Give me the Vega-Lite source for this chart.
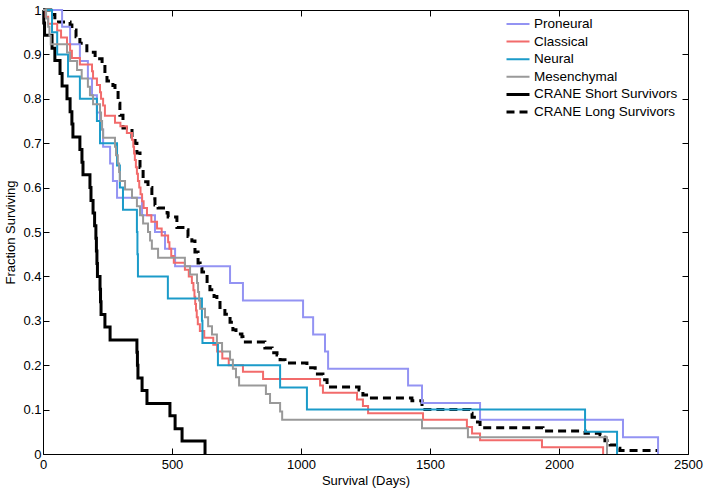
{
  "$schema": "https://vega.github.io/schema/vega-lite/v6.json",
  "width": 645,
  "height": 444,
  "autosize": {"type": "none"},
  "padding": {"left": 43, "top": 10, "right": 20, "bottom": 38},
  "background": "white",
  "config": {
    "view": {"stroke": null},
    "font": "Liberation Sans",
    "axis": {
      "domainColor": "#000000", "domainWidth": 1,
      "tickColor": "#000000", "tickSize": -6, "tickWidth": 1,
      "labelColor": "#000000", "labelFont": "Liberation Sans", "labelFontSize": 13,
      "titleColor": "#000000", "titleFont": "Liberation Sans", "titleFontSize": 13, "titleFontWeight": "normal",
      "grid": false
    },
    "legend": {
      "labelFont": "Liberation Sans", "labelFontSize": 13.5, "labelColor": "#000000",
      "symbolType": "stroke", "symbolSize": 529, "labelOffset": 3,
      "clipHeight": 14, "rowPadding": 3.6, "orient": "none", "legendX": 462, "legendY": 7
    }
  },
  "data": {"values": [
    {"g":"CRANE Short Survivors","t":0,"s":1},{"g":"CRANE Short Survivors","t":3,"s":0.971},{"g":"CRANE Short Survivors","t":6,"s":0.943},{"g":"CRANE Short Survivors","t":35,"s":0.914},{"g":"CRANE Short Survivors","t":46,"s":0.886},{"g":"CRANE Short Survivors","t":66,"s":0.857},{"g":"CRANE Short Survivors","t":74,"s":0.829},{"g":"CRANE Short Survivors","t":93,"s":0.8},{"g":"CRANE Short Survivors","t":105,"s":0.771},{"g":"CRANE Short Survivors","t":112,"s":0.743},{"g":"CRANE Short Survivors","t":116,"s":0.714},{"g":"CRANE Short Survivors","t":143,"s":0.686},{"g":"CRANE Short Survivors","t":151,"s":0.657},{"g":"CRANE Short Survivors","t":155,"s":0.629},{"g":"CRANE Short Survivors","t":182,"s":0.6},{"g":"CRANE Short Survivors","t":186,"s":0.571},{"g":"CRANE Short Survivors","t":194,"s":0.543},{"g":"CRANE Short Survivors","t":200,"s":0.514},{"g":"CRANE Short Survivors","t":205,"s":0.486},{"g":"CRANE Short Survivors","t":207,"s":0.457},{"g":"CRANE Short Survivors","t":209,"s":0.429},{"g":"CRANE Short Survivors","t":211,"s":0.4},{"g":"CRANE Short Survivors","t":221,"s":0.371},{"g":"CRANE Short Survivors","t":223,"s":0.343},{"g":"CRANE Short Survivors","t":225,"s":0.314},{"g":"CRANE Short Survivors","t":240,"s":0.286},{"g":"CRANE Short Survivors","t":260,"s":0.257},{"g":"CRANE Short Survivors","t":364,"s":0.229},{"g":"CRANE Short Survivors","t":366,"s":0.2},{"g":"CRANE Short Survivors","t":368,"s":0.171},{"g":"CRANE Short Survivors","t":384,"s":0.143},{"g":"CRANE Short Survivors","t":403,"s":0.114},{"g":"CRANE Short Survivors","t":492,"s":0.086},{"g":"CRANE Short Survivors","t":512,"s":0.057},{"g":"CRANE Short Survivors","t":539,"s":0.029},{"g":"CRANE Short Survivors","t":628,"s":0},

    {"g":"CRANE Long Survivors","t":0,"s":1},{"g":"CRANE Long Survivors","t":30,"s":0.99},{"g":"CRANE Long Survivors","t":46,"s":0.973},{"g":"CRANE Long Survivors","t":105,"s":0.966},{"g":"CRANE Long Survivors","t":112,"s":0.955},{"g":"CRANE Long Survivors","t":128,"s":0.94},{"g":"CRANE Long Survivors","t":143,"s":0.925},{"g":"CRANE Long Survivors","t":170,"s":0.905},{"g":"CRANE Long Survivors","t":202,"s":0.89},{"g":"CRANE Long Survivors","t":229,"s":0.876},{"g":"CRANE Long Survivors","t":240,"s":0.855},{"g":"CRANE Long Survivors","t":248,"s":0.84},{"g":"CRANE Long Survivors","t":271,"s":0.83},{"g":"CRANE Long Survivors","t":279,"s":0.82},{"g":"CRANE Long Survivors","t":291,"s":0.79},{"g":"CRANE Long Survivors","t":298,"s":0.763},{"g":"CRANE Long Survivors","t":310,"s":0.734},{"g":"CRANE Long Survivors","t":345,"s":0.714},{"g":"CRANE Long Survivors","t":357,"s":0.7},{"g":"CRANE Long Survivors","t":364,"s":0.678},{"g":"CRANE Long Survivors","t":376,"s":0.645},{"g":"CRANE Long Survivors","t":388,"s":0.613},{"g":"CRANE Long Survivors","t":407,"s":0.6},{"g":"CRANE Long Survivors","t":422,"s":0.575},{"g":"CRANE Long Survivors","t":434,"s":0.561},{"g":"CRANE Long Survivors","t":446,"s":0.554},{"g":"CRANE Long Survivors","t":481,"s":0.543},{"g":"CRANE Long Survivors","t":485,"s":0.534},{"g":"CRANE Long Survivors","t":519,"s":0.51},{"g":"CRANE Long Survivors","t":550,"s":0.505},{"g":"CRANE Long Survivors","t":562,"s":0.49},{"g":"CRANE Long Survivors","t":577,"s":0.48},{"g":"CRANE Long Survivors","t":589,"s":0.455},{"g":"CRANE Long Survivors","t":601,"s":0.43},{"g":"CRANE Long Survivors","t":609,"s":0.42},{"g":"CRANE Long Survivors","t":616,"s":0.41},{"g":"CRANE Long Survivors","t":636,"s":0.385},{"g":"CRANE Long Survivors","t":647,"s":0.37},{"g":"CRANE Long Survivors","t":663,"s":0.355},{"g":"CRANE Long Survivors","t":674,"s":0.347},{"g":"CRANE Long Survivors","t":686,"s":0.33},{"g":"CRANE Long Survivors","t":705,"s":0.315},{"g":"CRANE Long Survivors","t":725,"s":0.297},{"g":"CRANE Long Survivors","t":736,"s":0.28},{"g":"CRANE Long Survivors","t":748,"s":0.27},{"g":"CRANE Long Survivors","t":771,"s":0.264},{"g":"CRANE Long Survivors","t":775,"s":0.252},{"g":"CRANE Long Survivors","t":860,"s":0.239},{"g":"CRANE Long Survivors","t":888,"s":0.228},{"g":"CRANE Long Survivors","t":907,"s":0.223},{"g":"CRANE Long Survivors","t":919,"s":0.212},{"g":"CRANE Long Survivors","t":938,"s":0.205},{"g":"CRANE Long Survivors","t":1023,"s":0.194},{"g":"CRANE Long Survivors","t":1055,"s":0.18},{"g":"CRANE Long Survivors","t":1085,"s":0.167},{"g":"CRANE Long Survivors","t":1101,"s":0.151},{"g":"CRANE Long Survivors","t":1225,"s":0.144},{"g":"CRANE Long Survivors","t":1240,"s":0.133},{"g":"CRANE Long Survivors","t":1260,"s":0.126},{"g":"CRANE Long Survivors","t":1430,"s":0.12},{"g":"CRANE Long Survivors","t":1469,"s":0.1},{"g":"CRANE Long Survivors","t":1655,"s":0.092},{"g":"CRANE Long Survivors","t":1663,"s":0.083},{"g":"CRANE Long Survivors","t":1678,"s":0.072},{"g":"CRANE Long Survivors","t":1694,"s":0.061},{"g":"CRANE Long Survivors","t":1705,"s":0.059},{"g":"CRANE Long Survivors","t":1938,"s":0.052},{"g":"CRANE Long Survivors","t":2101,"s":0.047},{"g":"CRANE Long Survivors","t":2159,"s":0.043},{"g":"CRANE Long Survivors","t":2167,"s":0.038},{"g":"CRANE Long Survivors","t":2178,"s":0.03},{"g":"CRANE Long Survivors","t":2186,"s":0.025},{"g":"CRANE Long Survivors","t":2198,"s":0.02},{"g":"CRANE Long Survivors","t":2225,"s":0.013},{"g":"CRANE Long Survivors","t":2236,"s":0.008},{"g":"CRANE Long Survivors","t":2384,"s":0.008},

    {"g":"Proneural","t":0,"s":1},{"g":"Proneural","t":74,"s":0.962},{"g":"Proneural","t":105,"s":0.923},{"g":"Proneural","t":143,"s":0.885},{"g":"Proneural","t":174,"s":0.846},{"g":"Proneural","t":190,"s":0.808},{"g":"Proneural","t":209,"s":0.769},{"g":"Proneural","t":221,"s":0.731},{"g":"Proneural","t":233,"s":0.692},{"g":"Proneural","t":260,"s":0.654},{"g":"Proneural","t":271,"s":0.615},{"g":"Proneural","t":287,"s":0.577},{"g":"Proneural","t":384,"s":0.538},{"g":"Proneural","t":434,"s":0.5},{"g":"Proneural","t":473,"s":0.462},{"g":"Proneural","t":512,"s":0.423},{"g":"Proneural","t":725,"s":0.385},{"g":"Proneural","t":775,"s":0.346},{"g":"Proneural","t":1008,"s":0.308},{"g":"Proneural","t":1047,"s":0.269},{"g":"Proneural","t":1093,"s":0.231},{"g":"Proneural","t":1105,"s":0.192},{"g":"Proneural","t":1415,"s":0.154},{"g":"Proneural","t":1469,"s":0.115},{"g":"Proneural","t":1694,"s":0.077},{"g":"Proneural","t":2248,"s":0.038},{"g":"Proneural","t":2384,"s":0},

    {"g":"Classical","t":0,"s":1},{"g":"Classical","t":10,"s":0.985},{"g":"Classical","t":20,"s":0.969},{"g":"Classical","t":55,"s":0.954},{"g":"Classical","t":70,"s":0.938},{"g":"Classical","t":93,"s":0.923},{"g":"Classical","t":105,"s":0.908},{"g":"Classical","t":112,"s":0.892},{"g":"Classical","t":143,"s":0.877},{"g":"Classical","t":190,"s":0.862},{"g":"Classical","t":194,"s":0.846},{"g":"Classical","t":209,"s":0.831},{"g":"Classical","t":221,"s":0.815},{"g":"Classical","t":225,"s":0.8},{"g":"Classical","t":233,"s":0.785},{"g":"Classical","t":240,"s":0.762},{"g":"Classical","t":279,"s":0.746},{"g":"Classical","t":300,"s":0.738},{"g":"Classical","t":325,"s":0.723},{"g":"Classical","t":345,"s":0.708},{"g":"Classical","t":350,"s":0.692},{"g":"Classical","t":353,"s":0.677},{"g":"Classical","t":356,"s":0.662},{"g":"Classical","t":360,"s":0.646},{"g":"Classical","t":364,"s":0.631},{"g":"Classical","t":368,"s":0.615},{"g":"Classical","t":373,"s":0.6},{"g":"Classical","t":378,"s":0.585},{"g":"Classical","t":384,"s":0.569},{"g":"Classical","t":390,"s":0.554},{"g":"Classical","t":403,"s":0.538},{"g":"Classical","t":420,"s":0.523},{"g":"Classical","t":442,"s":0.508},{"g":"Classical","t":460,"s":0.492},{"g":"Classical","t":485,"s":0.477},{"g":"Classical","t":490,"s":0.462},{"g":"Classical","t":497,"s":0.446},{"g":"Classical","t":507,"s":0.431},{"g":"Classical","t":550,"s":0.415},{"g":"Classical","t":565,"s":0.4},{"g":"Classical","t":577,"s":0.385},{"g":"Classical","t":583,"s":0.369},{"g":"Classical","t":587,"s":0.354},{"g":"Classical","t":590,"s":0.338},{"g":"Classical","t":593,"s":0.323},{"g":"Classical","t":596,"s":0.308},{"g":"Classical","t":600,"s":0.292},{"g":"Classical","t":608,"s":0.277},{"g":"Classical","t":625,"s":0.262},{"g":"Classical","t":660,"s":0.246},{"g":"Classical","t":675,"s":0.231},{"g":"Classical","t":695,"s":0.215},{"g":"Classical","t":720,"s":0.2},{"g":"Classical","t":775,"s":0.185},{"g":"Classical","t":853,"s":0.169},{"g":"Classical","t":1074,"s":0.154},{"g":"Classical","t":1085,"s":0.138},{"g":"Classical","t":1217,"s":0.123},{"g":"Classical","t":1240,"s":0.108},{"g":"Classical","t":1260,"s":0.092},{"g":"Classical","t":1473,"s":0.077},{"g":"Classical","t":1643,"s":0.061},{"g":"Classical","t":1663,"s":0.046},{"g":"Classical","t":1694,"s":0.031},{"g":"Classical","t":1934,"s":0.015},{"g":"Classical","t":2171,"s":0},

    {"g":"Neural","t":0,"s":1},{"g":"Neural","t":35,"s":0.95},{"g":"Neural","t":55,"s":0.9},{"g":"Neural","t":97,"s":0.85},{"g":"Neural","t":143,"s":0.8},{"g":"Neural","t":209,"s":0.75},{"g":"Neural","t":221,"s":0.7},{"g":"Neural","t":287,"s":0.65},{"g":"Neural","t":298,"s":0.6},{"g":"Neural","t":310,"s":0.55},{"g":"Neural","t":364,"s":0.5},{"g":"Neural","t":366,"s":0.45},{"g":"Neural","t":368,"s":0.4},{"g":"Neural","t":484,"s":0.35},{"g":"Neural","t":616,"s":0.3},{"g":"Neural","t":618,"s":0.25},{"g":"Neural","t":678,"s":0.2},{"g":"Neural","t":919,"s":0.15},{"g":"Neural","t":1023,"s":0.1},{"g":"Neural","t":2101,"s":0.05},{"g":"Neural","t":2225,"s":0},

    {"g":"Mesenchymal","t":0,"s":1},{"g":"Mesenchymal","t":12,"s":0.981},{"g":"Mesenchymal","t":20,"s":0.962},{"g":"Mesenchymal","t":25,"s":0.942},{"g":"Mesenchymal","t":30,"s":0.923},{"g":"Mesenchymal","t":93,"s":0.904},{"g":"Mesenchymal","t":105,"s":0.885},{"g":"Mesenchymal","t":132,"s":0.865},{"g":"Mesenchymal","t":150,"s":0.846},{"g":"Mesenchymal","t":174,"s":0.827},{"g":"Mesenchymal","t":182,"s":0.808},{"g":"Mesenchymal","t":194,"s":0.788},{"g":"Mesenchymal","t":221,"s":0.769},{"g":"Mesenchymal","t":225,"s":0.75},{"g":"Mesenchymal","t":229,"s":0.731},{"g":"Mesenchymal","t":233,"s":0.712},{"g":"Mesenchymal","t":279,"s":0.692},{"g":"Mesenchymal","t":283,"s":0.673},{"g":"Mesenchymal","t":290,"s":0.654},{"g":"Mesenchymal","t":295,"s":0.635},{"g":"Mesenchymal","t":298,"s":0.615},{"g":"Mesenchymal","t":318,"s":0.596},{"g":"Mesenchymal","t":345,"s":0.577},{"g":"Mesenchymal","t":364,"s":0.558},{"g":"Mesenchymal","t":376,"s":0.538},{"g":"Mesenchymal","t":388,"s":0.519},{"g":"Mesenchymal","t":407,"s":0.5},{"g":"Mesenchymal","t":415,"s":0.481},{"g":"Mesenchymal","t":422,"s":0.462},{"g":"Mesenchymal","t":446,"s":0.442},{"g":"Mesenchymal","t":550,"s":0.423},{"g":"Mesenchymal","t":570,"s":0.404},{"g":"Mesenchymal","t":597,"s":0.385},{"g":"Mesenchymal","t":601,"s":0.365},{"g":"Mesenchymal","t":605,"s":0.346},{"g":"Mesenchymal","t":609,"s":0.327},{"g":"Mesenchymal","t":628,"s":0.308},{"g":"Mesenchymal","t":640,"s":0.288},{"g":"Mesenchymal","t":655,"s":0.269},{"g":"Mesenchymal","t":674,"s":0.25},{"g":"Mesenchymal","t":694,"s":0.231},{"g":"Mesenchymal","t":725,"s":0.212},{"g":"Mesenchymal","t":736,"s":0.192},{"g":"Mesenchymal","t":748,"s":0.173},{"g":"Mesenchymal","t":760,"s":0.154},{"g":"Mesenchymal","t":864,"s":0.135},{"g":"Mesenchymal","t":880,"s":0.115},{"g":"Mesenchymal","t":919,"s":0.096},{"g":"Mesenchymal","t":927,"s":0.077},{"g":"Mesenchymal","t":1469,"s":0.058},{"g":"Mesenchymal","t":1647,"s":0.038},{"g":"Mesenchymal","t":2186,"s":0}
  ]},
  "layer": [
    {
      "mark": {"type": "line", "interpolate": "step-after"},
      "encoding": {
        "x": {"field": "t", "type": "quantitative", "scale": {"domain": [0, 2500], "nice": false},
              "axis": {"title": "Survival (Days)", "values": [0, 500, 1000, 1500, 2000, 2500], "format": "d", "labelPadding": 10, "titlePadding": 3, "labelFlush": false}},
        "y": {"field": "s", "type": "quantitative", "scale": {"domain": [0, 1], "nice": false},
              "axis": {"title": "Fraction Surviving", "values": [0, 0.1, 0.2, 0.3, 0.4, 0.5, 0.6, 0.7, 0.8, 0.9, 1], "format": ".1~f", "labelPadding": 8, "titlePadding": 5, "labelFlush": false}},
        "color": {"field": "g", "type": "nominal",
                  "scale": {"domain": ["Proneural", "Classical", "Neural", "Mesenchymal", "CRANE Short Survivors", "CRANE Long Survivors"],
                            "range": ["#9393f3", "#f26b6b", "#1b9bc9", "#999999", "#000000", "#000000"]},
                  "legend": {"title": null}},
        "strokeDash": {"field": "g", "type": "nominal",
                  "scale": {"domain": ["Proneural", "Classical", "Neural", "Mesenchymal", "CRANE Short Survivors", "CRANE Long Survivors"],
                            "range": [[1, 0], [1, 0], [1, 0], [1, 0], [1, 0], [8, 5]]},
                  "legend": {"title": null}},
        "strokeWidth": {"field": "g", "type": "nominal",
                  "scale": {"type": "ordinal", "domain": ["Proneural", "Classical", "Neural", "Mesenchymal", "CRANE Short Survivors", "CRANE Long Survivors"],
                            "range": [2, 2, 2, 2, 3, 3]},
                  "legend": {"title": null}}
      }
    },
    {
      "mark": {"type": "point", "opacity": 0},
      "encoding": {
        "x": {"field": "t", "type": "quantitative", "axis": {"orient": "top", "title": null, "labels": false, "values": [0, 500, 1000, 1500, 2000, 2500]}},
        "y": {"field": "s", "type": "quantitative", "axis": {"orient": "right", "title": null, "labels": false, "values": [0, 0.1, 0.2, 0.3, 0.4, 0.5, 0.6, 0.7, 0.8, 0.9, 1]}}
      }
    }
  ],
  "resolve": {"axis": {"x": "independent", "y": "independent"}}
}
